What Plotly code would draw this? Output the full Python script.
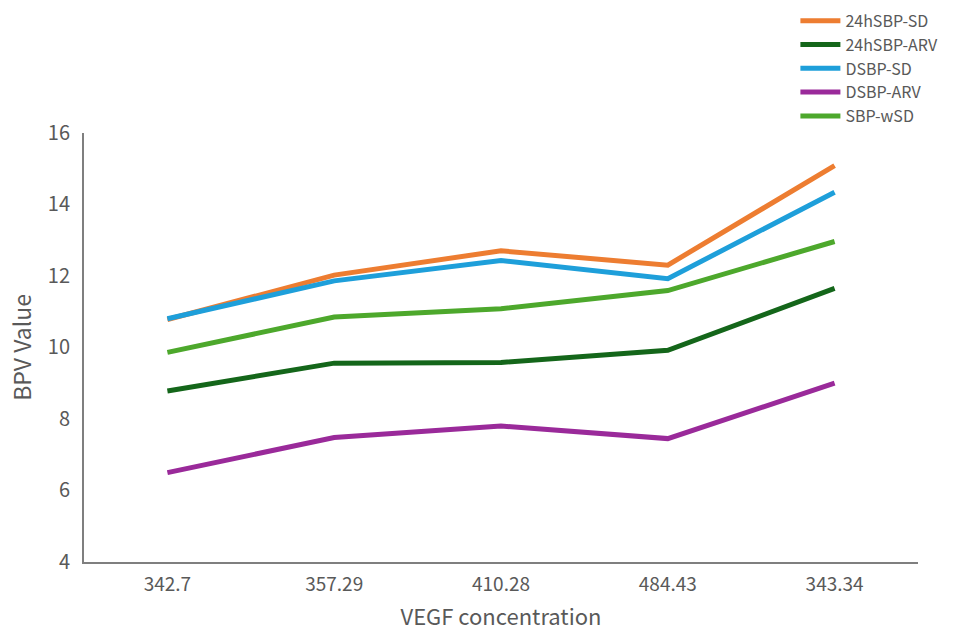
import plotly.graph_objects as go

categories = ["342.7", "357.29", "410.28", "484.43", "343.34"]
sbp24_sd = [10.78, 12.02, 12.70, 12.30, 15.08]
sbp24_arv = [8.78, 9.56, 9.58, 9.92, 11.65]
dsbp_sd = [10.80, 11.86, 12.43, 11.92, 14.34]
dsbp_arv = [6.50, 7.48, 7.80, 7.45, 9.00]
sbp_wsd = [9.86, 10.85, 11.08, 11.59, 12.96]

series = [
    ("24hSBP-SD", sbp24_sd, "#ED7D31"),
    ("24hSBP-ARV", sbp24_arv, "#14661A"),
    ("DSBP-SD", dsbp_sd, "#1E9FDA"),
    ("DSBP-ARV", dsbp_arv, "#9A2A9A"),
    ("SBP-wSD", sbp_wsd, "#4DA82C"),
]

fig = go.Figure()
for name, vals, col in series:
    fig.add_trace(go.Scatter(x=categories, y=vals, name=name, mode="lines",
                             line=dict(color=col, width=5)))

font = "Noto Sans CJK SC"
grey = "#595959"
fig.update_layout(
    width=967, height=631,
    margin=dict(l=84, r=49, t=131, b=69),
    paper_bgcolor="white", plot_bgcolor="white",
    font=dict(family=font, color=grey, size=16),
    showlegend=True,
    legend=dict(xref="paper", yref="container", x=0.853, y=0.994,
                xanchor="left", yanchor="top",
                font=dict(size=16, color=grey, family=font),
                tracegroupgap=0, itemwidth=40, bgcolor="rgba(0,0,0,0)"),
    xaxis=dict(type="category", showline=True, linecolor="#7f7f7f", linewidth=2,
               ticks="", showgrid=False, zeroline=False, automargin=False,
               ticklabelstandoff=4,
               title=dict(text="VEGF concentration", font=dict(size=22, color=grey), standoff=19),
               tickfont=dict(size=19, color=grey), range=[-0.5, 4.5]),
    yaxis=dict(range=[4, 16], dtick=2, showline=True, linecolor="#7f7f7f", linewidth=2,
               ticks="", showgrid=False, zeroline=False, automargin=False,
               ticklabelstandoff=8,
               title=dict(text="BPV Value", font=dict(size=23, color=grey), standoff=10),
               tickfont=dict(size=20, color=grey)),
)
fig.write_html("out.html")
